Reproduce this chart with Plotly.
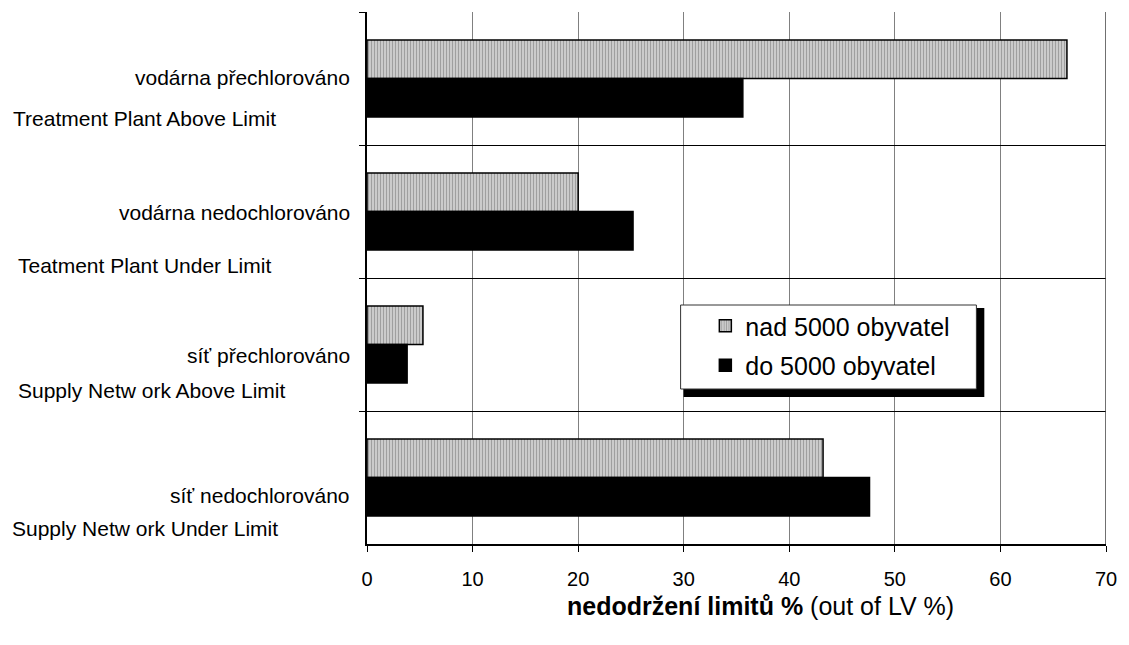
import plotly.graph_objects as go

categories = ["vodárna přechlorováno", "vodárna nedochlorováno", "síť přechlorováno", "síť nedochlorováno"]
english = ["Treatment Plant Above Limit", "Teatment Plant Under Limit",
           "Supply Netw ork Above Limit", "Supply Netw ork Under Limit"]
series_names = ["nad 5000 obyvatel", "do 5000 obyvatel"]
nad_5000 = [66.3, 20.0, 5.3, 43.2]
do_5000 = [35.6, 25.2, 3.8, 47.6]
x_ticks = [0, 10, 20, 30, 40, 50, 60, 70]

FONT = "Liberation Sans, Arial, sans-serif"
W, H = 1129, 645
L, R, T, B = 367, 15, 12, 101
PW, PH = W - L - R, H - T - B

def px_x(p):
    return (p - L) / PW

def px_y(p):
    return 1 - (p - T) / PH

fig = go.Figure()
fig.add_trace(go.Bar(
    y=categories, x=nad_5000, orientation="h", name=series_names[0],
    legendgroup="a",
    marker=dict(color="#d0d0d0", line=dict(color="black", width=1.5),
                pattern=dict(shape="|", fgcolor="#6e6e6e", bgcolor="#d0d0d0",
                             size=3, solidity=0.4)),
))
fig.add_trace(go.Bar(
    y=categories, x=do_5000, orientation="h", name=series_names[1],
    legendgroup="b",
    marker=dict(color="black", line=dict(color="black", width=1.5)),
))

# category labels (two lines, Czech + English)
cz_shift = [1.5, -0.5, -11, -17.5]
en_shift = [-39.5, -53.5, -46, -50.5]
en_left = [7, 12, 12, 6]
for i, c in enumerate(categories):
    fig.add_annotation(x=px_x(352), xref="paper", y=c, yref="y", yshift=cz_shift[i],
                       text=c, showarrow=False, xanchor="right", yanchor="middle",
                       font=dict(family=FONT, size=21, color="black"))
    fig.add_annotation(x=px_x(en_left[i]), xref="paper", y=c, yref="y", yshift=en_shift[i],
                       text=english[i], showarrow=False, xanchor="left", yanchor="middle",
                       font=dict(family=FONT, size=21, color="black"))

# axis title
fig.add_annotation(x=px_x(765), xref="paper", y=px_y(606), yref="paper",
                   text="<b>nedodržení limitů %</b> (out of LV %)", showarrow=False,
                   xanchor="center", yanchor="middle",
                   font=dict(family=FONT, size=25, color="black"))

# legend box with shadow
fig.add_shape(type="rect", xref="paper", yref="paper",
              x0=px_x(687), x1=px_x(991), y0=px_y(397), y1=px_y(308),
              fillcolor="black", line=dict(width=0), layer="above")
fig.add_shape(type="rect", xref="paper", yref="paper",
              x0=px_x(684), x1=px_x(983), y0=px_y(389), y1=px_y(305),
              fillcolor="white", line=dict(color="#333333", width=1), layer="above")
# right border
fig.add_shape(type="line", xref="x", yref="paper", x0=70, x1=70, y0=0, y1=1,
              line=dict(color="#404040", width=1.5), layer="above")

fig.update_layout(
    width=W, height=H,
    margin=dict(l=L, r=R, t=T, b=B),
    paper_bgcolor="white", plot_bgcolor="white",
    barmode="group", bargap=0.42, bargroupgap=0,
    font=dict(family=FONT, size=20, color="black"),
    showlegend=True,
    legend=dict(x=px_x(709), y=px_y(303), xanchor="left", yanchor="top",
                bgcolor="rgba(0,0,0,0)", borderwidth=0,
                font=dict(family=FONT, size=25, color="black"),
                traceorder="grouped", tracegroupgap=4),
    xaxis=dict(range=[0, 70], tickvals=x_ticks, ticks="outside", ticklen=6,
               tickcolor="black", showline=True, linecolor="black", linewidth=1.5,
               showgrid=True, gridcolor="#808080", gridwidth=1, zeroline=False,
               ticklabelstandoff=10,
               tickfont=dict(family=FONT, size=20, color="black")),
    yaxis=dict(categoryorder="array", categoryarray=categories, autorange="reversed",
               tickson="boundaries", ticks="outside", ticklen=6, tickcolor="black",
               showline=True, linecolor="black", linewidth=2,
               showgrid=True, gridcolor="black", gridwidth=1.2,
               showticklabels=False, zeroline=False),
)

fig.write_html("out.html")
